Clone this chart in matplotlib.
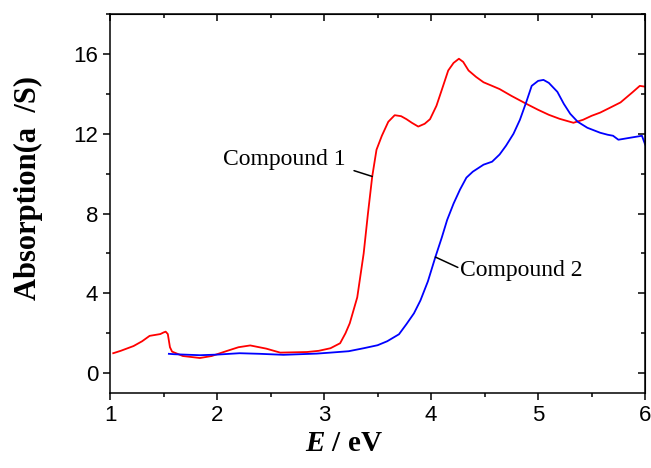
import numpy as np
import matplotlib.pyplot as plt
from matplotlib.ticker import MultipleLocator

plt.rcParams['mathtext.fontset'] = 'custom'
plt.rcParams['mathtext.it'] = 'Liberation Serif:italic:bold'
plt.rcParams['mathtext.rm'] = 'Liberation Serif:bold'

# Compound 1 (red)
e1 = [1.03, 1.1, 1.22, 1.3, 1.37, 1.47, 1.5, 1.52, 1.54, 1.56, 1.58, 1.68, 1.84,
      1.95, 2.09, 2.2, 2.31, 2.46, 2.59, 2.84, 2.95, 3.06, 3.15, 3.2, 3.24, 3.31,
      3.37, 3.41, 3.45, 3.49, 3.54, 3.6, 3.66, 3.72, 3.77, 3.82, 3.88, 3.94, 3.99,
      4.05, 4.1, 4.16, 4.21, 4.26, 4.3, 4.35, 4.42, 4.49, 4.57, 4.64, 4.75, 4.89,
      5.0, 5.1, 5.2, 5.33, 5.42, 5.5, 5.58, 5.67, 5.77, 5.88, 5.95, 6.0]
a1 = [1.0, 1.12, 1.36, 1.6, 1.87, 1.96, 2.04, 2.08, 1.96, 1.3, 1.08, 0.86, 0.76,
      0.86, 1.11, 1.3, 1.39, 1.23, 1.03, 1.06, 1.12, 1.25, 1.5, 2.0, 2.5, 3.8,
      6.0, 8.0, 9.86, 11.2, 11.9, 12.6, 12.93, 12.88, 12.73, 12.55, 12.36, 12.5, 12.73,
      13.4, 14.2, 15.17, 15.55, 15.76, 15.6, 15.17, 14.85, 14.58, 14.4, 14.24, 13.9, 13.5,
      13.2, 12.95, 12.75, 12.55, 12.7, 12.9, 13.06, 13.3, 13.57, 14.07, 14.4, 14.36]

# Compound 2 (blue)
e2 = [1.55, 1.6, 1.84, 2.0, 2.21, 2.4, 2.62, 2.93, 3.06, 3.23, 3.37, 3.5, 3.59,
      3.7, 3.77, 3.84, 3.9, 3.97, 4.04, 4.1, 4.15, 4.21, 4.27, 4.33, 4.39, 4.49,
      4.57, 4.64, 4.7, 4.77, 4.83, 4.89, 4.94, 5.0, 5.05, 5.1, 5.18, 5.24, 5.3,
      5.37, 5.46, 5.58, 5.65, 5.7, 5.75, 5.86, 5.95, 5.97, 6.0]
a2 = [0.97, 0.95, 0.9, 0.93, 1.0, 0.97, 0.92, 0.98, 1.03, 1.1, 1.25, 1.4, 1.6,
      1.95, 2.46, 3.0, 3.64, 4.6, 5.82, 6.8, 7.68, 8.5, 9.2, 9.8, 10.1, 10.45,
      10.6, 10.96, 11.4, 12.0, 12.7, 13.6, 14.4, 14.65, 14.7, 14.55, 14.1, 13.5, 13.0,
      12.6, 12.3, 12.05, 11.95, 11.9, 11.7, 11.8, 11.88, 11.9, 11.46]

fig = plt.figure(figsize=(6.51, 4.68), dpi=100)
ax = fig.add_axes([0.169, 0.16, 0.822, 0.81])

ax.plot(e1, a1, color='#ff0000', lw=1.3)
ax.plot(e2, a2, color='#0000ff', lw=1.3)

ax.set_xlim(1, 6)
ax.set_ylim(-1, 18)
ax.xaxis.set_major_locator(MultipleLocator(1))
ax.xaxis.set_minor_locator(MultipleLocator(0.5))
ax.yaxis.set_major_locator(MultipleLocator(4))
ax.yaxis.set_minor_locator(MultipleLocator(2))

for s in ax.spines.values():
    s.set_linewidth(1.1)

ax.tick_params(which='both', direction='out', top=False, right=False, width=1.1)
ax.tick_params(which='major', length=5)
ax.tick_params(which='minor', length=3)
for lab in ax.get_xticklabels() + ax.get_yticklabels():
    lab.set_fontfamily('Liberation Sans')
    lab.set_fontsize(16)

# inward ticks on top and right
ax2 = ax.secondary_xaxis('top')
ax2.xaxis.set_major_locator(MultipleLocator(1))
ax2.xaxis.set_minor_locator(MultipleLocator(0.5))
ax2.tick_params(which='both', direction='in', labeltop=False, width=1.1)
ax2.tick_params(which='major', length=5)
ax2.tick_params(which='minor', length=3)
ay2 = ax.secondary_yaxis('right')
ay2.yaxis.set_major_locator(MultipleLocator(4))
ay2.yaxis.set_minor_locator(MultipleLocator(2))
ay2.tick_params(which='both', direction='in', labelright=False, width=1.1)
ay2.tick_params(which='major', length=5)
ay2.tick_params(which='minor', length=3)

ax.set_xlabel(r'$E$ / eV', fontfamily='Liberation Serif',
              fontweight='bold', fontsize=21)
ax.xaxis.set_label_coords(0.437, -0.098)
ax.set_ylabel('Absorption(a  /S)', fontfamily='Liberation Serif',
              fontweight='bold', fontsize=22)
ax.yaxis.set_label_coords(-0.125, 0.542)

ax.annotate('', xy=(3.45, 9.86), xytext=(3.28, 10.15),
            arrowprops=dict(arrowstyle='-', color='black', lw=1.1,
                            shrinkA=0, shrinkB=0))
ax.text(3.2, 10.7, 'Compound 1', fontfamily='Liberation Serif', fontsize=17,
        ha='right', va='center')
ax.annotate('', xy=(4.04, 5.82), xytext=(4.25, 5.3),
            arrowprops=dict(arrowstyle='-', color='black', lw=1.1,
                            shrinkA=0, shrinkB=0))
ax.text(4.27, 5.13, 'Compound 2', fontfamily='Liberation Serif', fontsize=17,
        ha='left', va='center')

fig.savefig('out.png', dpi=100)
